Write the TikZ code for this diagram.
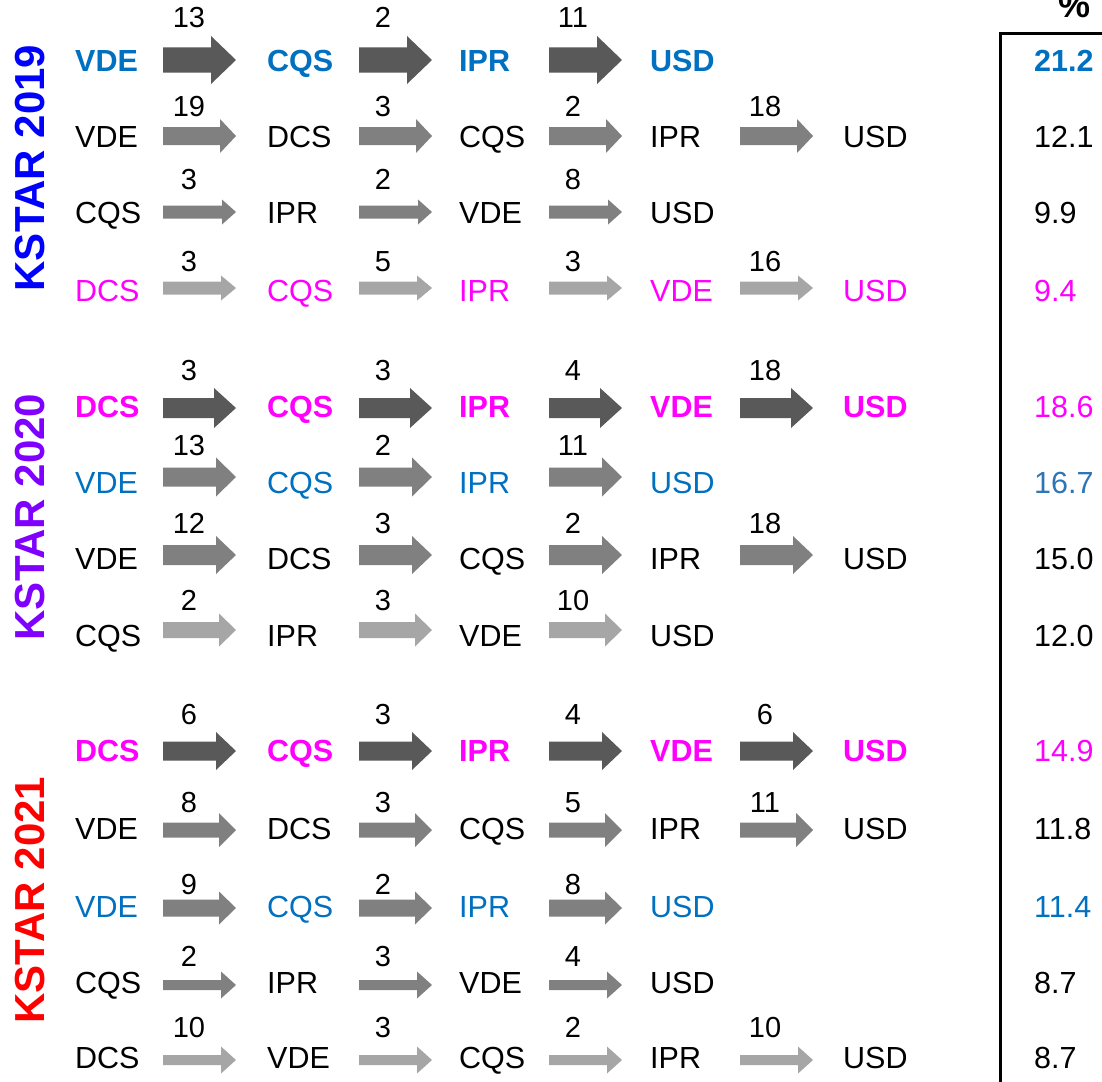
\documentclass[tikz,border=0pt]{standalone}
\usepackage{fontspec}
\setmainfont{Liberation Sans}
\definecolor{cblue}{HTML}{0070C0}
\definecolor{cmag}{HTML}{FF00FF}
\definecolor{csteel}{HTML}{2E75B6}
\definecolor{adark}{HTML}{595959}
\definecolor{amid}{HTML}{808080}
\definecolor{alight}{HTML}{A6A6A6}
\definecolor{kA}{HTML}{0000FF}
\definecolor{kB}{HTML}{7F00FF}
\definecolor{kC}{HTML}{FF0000}
\tikzset{
  lab/.style={inner sep=0pt, font=\fontsize{30.5}{36}\selectfont},
  boldlab/.style={inner sep=0pt, font=\fontsize{30.5}{36}\selectfont\bfseries},
  num/.style={inner sep=0pt, font=\fontsize{29}{34}\selectfont},
  kstar/.style={inner sep=0pt, rotate=90, font=\fontsize{42}{48}\selectfont\bfseries},
}
% labels of one row: #1 id, #2 y, #3 style, #4 list
\newcommand\rowlabels[4]{%
  \foreach \t [count=\i] in {#4} {%
    \pgfmathsetmacro\xx{{75,267,459,650,843}[\i-1]}%
    \node[#3,anchor=base west] (#1-\i) at (\xx,#2+11) {\t};}}
% arrows of one row: #1 id, #2 y, #3 half shaft, #4 half head, #5 head length, #6 colour, #7 numbers, #8 number y
\newcommand\rowarrows[8]{%
  \foreach \n [count=\i] in {#7} {%
    \pgfmathsetmacro\xa{{163,359,549,740}[\i-1]}%
    \pgfmathsetmacro\xb{\xa+73}%
    \pgfmathsetmacro\xh{\xb-#5}%
    \pgfmathsetmacro\xn{{189,383,573,765}[\i-1]}%
    \fill[#6] (\xa,#2-#3) -- (\xh,#2-#3) -- (\xh,#2-#4) -- (\xb,#2) -- (\xh,#2+#4) -- (\xh,#2+#3) -- (\xa,#2+#3) -- cycle;
    \node[num,anchor=base] (#1-n\i) at (\xn,#8+10) {\n};}}
% percentage: #1 id, #2 y, #3 style, #4 text
\newcommand\pct[4]{\node[#3,anchor=base west] (#1-p) at (1034,#2+11) {#4};}
\begin{document}
\begin{tikzpicture}[x=1pt,y=-1pt]
\clip (0,0) rectangle (1102,1081);
\fill[white] (0,0) rectangle (1102,1081);
% frame of the percentage column
\coordinate (fb) at (1000,1095);
\coordinate (ft) at (1000,33.5);
\coordinate (fr) at (1110,33.5);
\draw[line width=3pt] (fb) -- (ft) -- (fr);
\node[inner sep=0pt, font=\fontsize{36}{40}\selectfont\bfseries, anchor=base] (pc) at (1074,18) {\%};
% year labels
\node[kstar,text=kA] (k19) at (30,168) {KSTAR 2019};
\node[kstar,text=kB] (k20) at (30,517) {KSTAR 2020};
\node[kstar,text=kC] (k21) at (30,900) {KSTAR 2021};
% ---- 2019
\rowlabels{a1}{60}{boldlab,text=cblue}{VDE,CQS,IPR,USD}
\rowarrows{a1}{60}{12.5}{24}{25}{adark}{13,2,11}{18}
\pct{a1}{60}{boldlab,text=cblue}{21.2}
\rowlabels{a2}{136}{lab}{VDE,DCS,CQS,IPR,USD}
\rowarrows{a2}{136}{9}{17}{16}{amid}{19,3,2,18}{106}
\pct{a2}{136}{lab}{12.1}
\rowlabels{a3}{212}{lab}{CQS,IPR,VDE,USD}
\rowarrows{a3}{212}{6.5}{12.5}{14}{amid}{3,2,8}{179}
\pct{a3}{212}{lab}{9.9}
\rowlabels{a4}{290}{lab,text=cmag}{DCS,CQS,IPR,VDE,USD}
\rowarrows{a4}{288}{6.5}{12.5}{15}{alight}{3,5,3,16}{261}
\pct{a4}{290}{lab,text=cmag}{9.4}
% ---- 2020
\rowlabels{b1}{406}{boldlab,text=cmag}{DCS,CQS,IPR,VDE,USD}
\rowarrows{b1}{408}{10}{20}{22}{adark}{3,3,4,18}{370}
\pct{b1}{406}{lab,text=cmag}{18.6}
\rowlabels{b2}{482}{lab,text=cblue}{VDE,CQS,IPR,USD}
\rowarrows{b2}{477}{9.5}{19.5}{20}{amid}{13,2,11}{445}
\pct{b2}{482}{lab,text=csteel}{16.7}
\rowlabels{b3}{558}{lab}{VDE,DCS,CQS,IPR,USD}
\rowarrows{b3}{555}{10}{19}{20}{amid}{12,3,2,18}{523}
\pct{b3}{558}{lab}{15.0}
\rowlabels{b4}{635}{lab}{CQS,IPR,VDE,USD}
\rowarrows{b4}{630}{8}{16.5}{17}{alight}{2,3,10}{600}
\pct{b4}{635}{lab}{12.0}
% ---- 2021
\rowlabels{c1}{750}{boldlab,text=cmag}{DCS,CQS,IPR,VDE,USD}
\rowarrows{c1}{751}{9.5}{19}{20}{adark}{6,3,4,6}{714}
\pct{c1}{750}{lab,text=cmag}{14.9}
\rowlabels{c2}{828}{lab}{VDE,DCS,CQS,IPR,USD}
\rowarrows{c2}{830}{7.5}{17}{17}{amid}{8,3,5,11}{802}
\pct{c2}{828}{lab}{11.8}
\rowlabels{c3}{906}{lab,text=cblue}{VDE,CQS,IPR,USD}
\rowarrows{c3}{908}{8.5}{16.5}{17}{amid}{9,2,8}{884}
\pct{c3}{906}{lab,text=cblue}{11.4}
\rowlabels{c4}{982}{lab}{CQS,IPR,VDE,USD}
\rowarrows{c4}{985}{5}{13.5}{15}{amid}{2,3,4}{956}
\pct{c4}{982}{lab}{8.7}
\rowlabels{c5}{1057}{lab}{DCS,VDE,CQS,IPR,USD}
\rowarrows{c5}{1060}{5}{13.5}{15}{alight}{10,3,2,10}{1027}
\pct{c5}{1057}{lab}{8.7}
\end{tikzpicture}
\end{document}
